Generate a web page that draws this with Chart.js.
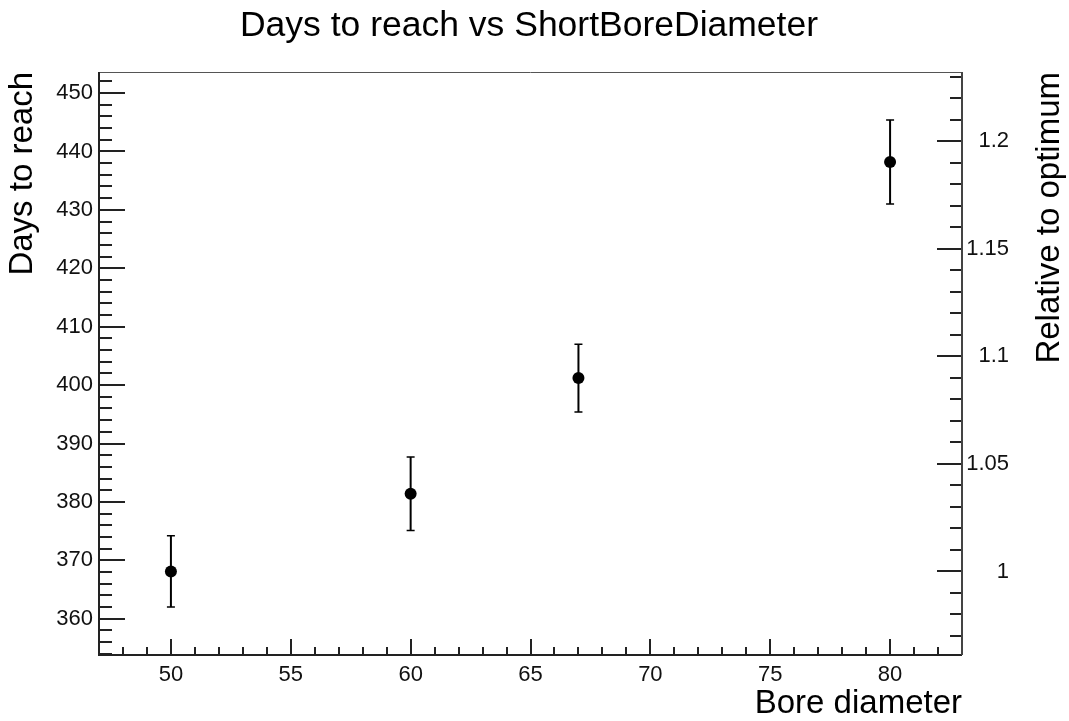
<!DOCTYPE html>
<html><head><meta charset="utf-8">
<script src="https://cdn.jsdelivr.net/npm/chart.js@4.4.1/dist/chart.umd.min.js"></script>
<style>html,body{margin:0;padding:0;background:#fff;overflow:hidden}</style>
</head><body>
<canvas id="c" width="1069" height="721" style="display:block;width:1069px;height:721px"></canvas>
<script>
// ---- data ----
const boreDiameter = [50, 60, 67, 80];
const daysToReach  = [368.1, 381.4, 401.2, 438.2];
const daysError    = [6.1, 6.3, 5.8, 7.2];
const xTicks  = [50, 55, 60, 65, 70, 75, 80];
const yTicks  = [360, 370, 380, 390, 400, 410, 420, 430, 440, 450];
const y2Ticks = [1, 1.05, 1.1, 1.15, 1.2];
const xRange = [47, 83];
const yRange = [353.8, 453.6];
const optimumDays = daysToReach[0];
const chartTitle = 'Days to reach vs ShortBoreDiameter';
const xTitle = 'Bore diameter';
const yTitle = 'Days to reach';
const y2Title = 'Relative to optimum';

const FONT = '"Liberation Sans", Arial, Helvetica, sans-serif';

const rootPlugin = {
  id: 'rootStyle',
  beforeDatasetsDraw(chart) {
    const ctx = chart.ctx, a = chart.chartArea;
    const x = chart.scales.x, y = chart.scales.y, y2 = chart.scales.y2;
    ctx.save();
    // minor + major ticks
    ctx.strokeStyle = '#222';
    ctx.lineWidth = 2;
    ctx.beginPath();
    for (let v = Math.ceil(xRange[0]); v <= xRange[1]; v += 1) {
      const px = Math.round(x.getPixelForValue(v));
      const len = (v % 5 === 0) ? 16 : 8;
      ctx.moveTo(px, a.bottom); ctx.lineTo(px, a.bottom - len);
    }
    for (let v = Math.ceil(yRange[0] / 2) * 2; v <= yRange[1]; v += 2) {
      const py = Math.round(y.getPixelForValue(v));
      const len = (v % 10 === 0) ? 26 : 13;
      ctx.moveTo(a.left, py); ctx.lineTo(a.left + len, py);
    }
    const r0 = y2.min, r1 = y2.max;
    for (let k = Math.ceil(r0 * 100); k <= Math.floor(r1 * 100); k++) {
      const py = Math.round(y2.getPixelForValue(k / 100));
      const len = (k % 5 === 0) ? 25 : 12;
      ctx.moveTo(a.right, py); ctx.lineTo(a.right - len, py);
    }
    ctx.stroke();
    // frame
    ctx.lineWidth = 1;
    ctx.strokeStyle = '#555';
    ctx.beginPath();
    ctx.moveTo(a.left, a.top + 0.5); ctx.lineTo(a.right, a.top + 0.5);
    ctx.stroke();
    ctx.lineWidth = 2;
    ctx.strokeStyle = '#222';
    ctx.beginPath();
    ctx.moveTo(a.left, a.top); ctx.lineTo(a.left, a.bottom); ctx.lineTo(a.right, a.bottom);
    ctx.stroke();
    ctx.strokeStyle = '#444';
    ctx.beginPath();
    ctx.moveTo(a.right, a.top); ctx.lineTo(a.right, a.bottom);
    ctx.stroke();
    // error bars
    ctx.strokeStyle = '#000';
    for (let i = 0; i < boreDiameter.length; i++) {
      const px = x.getPixelForValue(boreDiameter[i]);
      const pt = y.getPixelForValue(daysToReach[i] + daysError[i]);
      const pb = y.getPixelForValue(daysToReach[i] - daysError[i]);
      ctx.lineWidth = 2;
      ctx.beginPath(); ctx.moveTo(px, pt); ctx.lineTo(px, pb); ctx.stroke();
      ctx.lineWidth = 1.5;
      ctx.beginPath();
      ctx.moveTo(px - 4, pt); ctx.lineTo(px + 4, pt);
      ctx.moveTo(px - 4, pb); ctx.lineTo(px + 4, pb);
      ctx.stroke();
    }
    ctx.restore();
  },
  afterDraw(chart) {
    const ctx = chart.ctx, a = chart.chartArea;
    ctx.save();
    ctx.fillStyle = '#000';
    ctx.font = '35.5px ' + FONT;
    ctx.textAlign = 'center'; ctx.textBaseline = 'alphabetic';
    ctx.fillText(chartTitle, 529, 36);
    ctx.font = '33px ' + FONT;
    ctx.textAlign = 'right';
    ctx.fillText(xTitle, a.right, 713);
    ctx.save();
    ctx.translate(32, a.top); ctx.rotate(-Math.PI / 2);
    ctx.textAlign = 'right';
    ctx.fillText(yTitle, 0, 0);
    ctx.restore();
    ctx.save();
    ctx.translate(1059, a.top); ctx.rotate(-Math.PI / 2);
    ctx.textAlign = 'right';
    ctx.fillText(y2Title, 0, 0);
    ctx.restore();
    ctx.restore();
  }
};

const tickFont = { family: FONT, size: 22 };

new Chart(document.getElementById('c'), {
  type: 'scatter',
  data: {
    datasets: [{
      data: boreDiameter.map((b, i) => ({ x: b, y: daysToReach[i] })),
      backgroundColor: '#000', borderColor: '#000',
      pointRadius: 6, pointHoverRadius: 6, pointBorderWidth: 0,
      showLine: false, yAxisID: 'y', xAxisID: 'x'
    }]
  },
  options: {
    responsive: false, animation: false, events: [],
    layout: { padding: { top: 72, left: 0, right: 60, bottom: 0 } },
    plugins: { legend: { display: false }, title: { display: false }, tooltip: { enabled: false } },
    scales: {
      x: {
        type: 'linear', position: 'bottom', min: xRange[0], max: xRange[1],
        afterFit(s) { s.height = 66; },
        afterBuildTicks(s) { s.ticks = xTicks.map(v => ({ value: v })); },
        grid: { display: false, drawTicks: false }, border: { display: false },
        ticks: { font: tickFont, color: '#111', padding: 7, maxRotation: 0, autoSkip: false }
      },
      y: {
        type: 'linear', position: 'left', min: yRange[0], max: yRange[1],
        afterFit(s) { s.width = 99; },
        afterBuildTicks(s) { s.ticks = yTicks.map(v => ({ value: v })); },
        grid: { display: false, drawTicks: false }, border: { display: false },
        ticks: { font: tickFont, color: '#111', padding: 6, autoSkip: false }
      },
      y2: {
        type: 'linear', position: 'right',
        min: yRange[0] / optimumDays, max: yRange[1] / optimumDays,
        afterFit(s) { s.width = 47; },
        afterBuildTicks(s) { s.ticks = y2Ticks.map(v => ({ value: v })); },
        grid: { display: false, drawTicks: false }, border: { display: false },
        ticks: { font: tickFont, color: '#111', padding: 5, crossAlign: 'far', autoSkip: false,
          callback: v => String(+v.toFixed(2)) }
      }
    }
  },
  plugins: [rootPlugin]
});
</script>
</body></html>
